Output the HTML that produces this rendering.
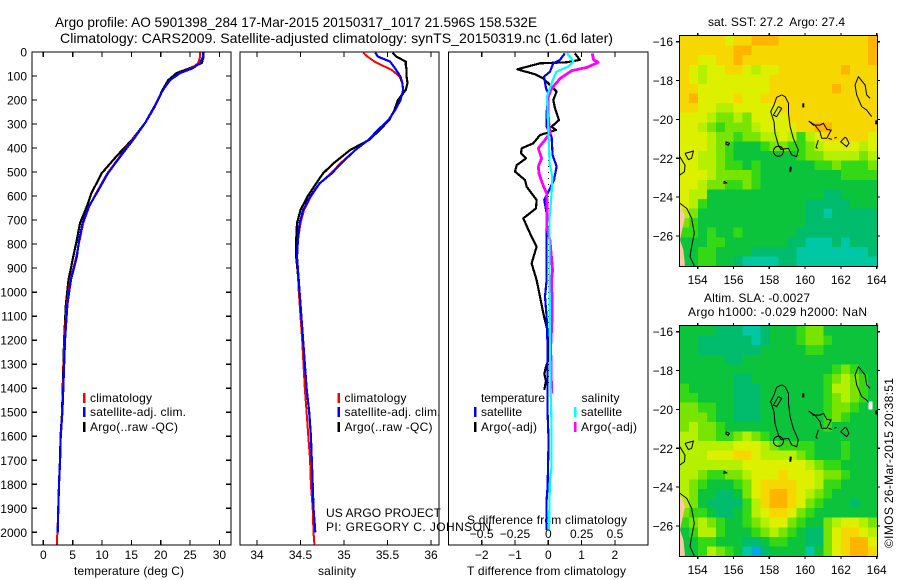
<!DOCTYPE html>
<html lang="en">
<head>
<meta charset="utf-8">
<title>Argo profile 5901398_284</title>
<style>
html,body{margin:0;padding:0;background:#fff;}
svg{display:block;font-family:"Liberation Sans",sans-serif;font-size:12px;fill:#000;}
</style>
</head>
<body>
<svg id="chart" xmlns="http://www.w3.org/2000/svg" width="900" height="580" viewBox="0 0 900 580">
<rect x="0" y="0" width="900" height="580" fill="#fff"/>
<text x="55" y="27" font-size="14" textLength="482" lengthAdjust="spacingAndGlyphs">Argo profile: AO 5901398_284 17-Mar-2015 20150317_1017 21.596S 158.532E</text>
<text x="60" y="43" font-size="14" textLength="553" lengthAdjust="spacingAndGlyphs">Climatology: CARS2009. Satellite-adjusted climatology: synTS_20150319.nc (1.6d later)</text>
<text x="74" y="575" textLength="110">temperature (deg C)</text>
<text x="318" y="575" textLength="38">salinity</text>
<text x="467" y="575" textLength="159">T difference from climatology</text>
<text x="467" y="524" textLength="160">S difference from climatology</text>
<text x="326" y="517" textLength="115">US ARGO PROJECT</text>
<text x="326" y="531" textLength="165">PI: GREGORY C. JOHNSON</text>
<text x="708" y="26" textLength="137" xml:space="preserve">sat. SST: 27.2  Argo: 27.4</text>
<text x="704" y="302" textLength="106">Altim. SLA: -0.0027</text>
<text x="688" y="316" textLength="179">Argo h1000: -0.029 h2000: NaN</text>
<text transform="translate(893,548) rotate(-90)" textLength="170">©IMOS 26-Mar-2015 20:38:51</text>
</svg>
<script>
/* ---------- profile data: depth (m) and measured values ---------- */
const depthT = [0,20,46,67,88,117,158,228,297,366,436,505,588,645,713,783,853,950,1050,1200,1400,1500,1600,1700,1800,1900,2000,2050];
const tempClim = [26.7,26.7,26.4,25.3,23.2,21.6,20.4,19.0,17.3,15.2,13.0,10.9,9.0,7.8,6.8,6.2,5.6,4.6,4.0,3.6,3.35,3.2,2.95,2.85,2.67,2.55,2.4,2.3];
const tempSat = [27.2,27.2,26.7,25.5,23.3,21.6,20.4,18.9,17.3,15.3,13.1,11.0,9.1,7.7,6.7,6.1,5.7,4.7,4.1,3.7,3.4,3.25,2.97,2.87,2.68,2.56,2.45,null];
const tempArgo = [27.3,27.3,27.0,25.0,22.7,21.3,20.3,19.0,17.3,15.1,12.4,9.95,8.2,7.4,6.25,5.7,5.1,4.3,3.85,3.55,3.3,3.2,2.95,2.85,2.67,2.55,2.45,null];

const depthS = [3,19,40,54,75,103,130,158,200,241,283,325,366,408,463,505,547,602,658,713,783,853,1000,1200,1400,1500,1600,1700,1800,1900,2000,2050];
const salClim = [35.22,35.27,35.35,35.43,35.55,35.64,35.67,35.68,35.65,35.59,35.51,35.39,35.28,35.13,34.96,34.85,34.72,34.62,34.54,34.50,34.47,34.46,34.48,34.52,34.55,34.57,34.59,34.61,34.62,34.64,34.65,34.66];
const salSat = [35.36,35.39,35.53,35.56,35.60,35.65,35.67,35.68,35.65,35.59,35.51,35.39,35.28,35.13,34.97,34.86,34.72,34.61,34.53,34.49,34.47,34.46,34.49,34.53,34.57,34.60,34.62,34.63,34.64,34.65,34.67,null];
const salArgo = [35.56,35.60,35.71,35.71,35.72,35.72,35.73,35.71,35.62,35.58,35.52,35.41,35.29,35.07,34.88,34.76,34.68,34.58,34.50,34.46,34.45,34.45,34.49,34.53,34.57,34.60,34.62,34.63,34.64,34.65,34.67,null];

const depthDiffTArgo = [6,33,43,47,72,93,110,144,165,200,235,283,311,325,346,380,401,422,443,471,498,533,561,616,651,693,755,811,880,949,1019,1088,1157,1213,1283,1310,1340,1370,1407];
const diffTArgo = [0.80,0.95,0.55,-0.25,-0.93,-0.40,-0.15,0.10,0.25,0.15,0.20,0.32,0.10,0.23,-0.25,-0.45,-0.80,-0.82,-0.67,-0.95,-1.00,-0.70,-0.65,-0.35,-0.37,-0.75,-0.55,-0.35,-0.50,-0.35,-0.25,-0.15,-0.03,0,0,-0.07,-0.12,-0.07,-0.12];
const depthDiffTSat = [6,33,47,82,103,151,172,255,311,353,429,477,533,582,616,672,741,949,1019,1102,1227,1505,1616,1810,1866,1991];
const diffTSat = [0.50,0.35,0.15,0.05,-0.13,-0.07,0,-0.05,-0.05,0.10,0.13,0.25,0.17,0,-0.12,-0.05,-0.05,-0.05,-0.10,-0.05,-0.02,-0.02,0.01,-0.02,-0.05,-0.05];
const depthDiffSSat = [6,12,40,61,82,130,186,325,464,519,589,686,949,1227,1411,1560,1727,1783,1991];
const diffSSat = [0.14,0.15,0.19,0.15,0.06,0.025,-0.01,0,0.01,0.03,0.025,0.01,0.01,0.012,0.018,0.025,0.025,0.012,0.005];
const depthDiffSArgo = [6,33,43,64,78,110,151,186,269,339,366,401,443,477,505,554,589,658,727,783,908,949,1088,1227,1422];
const diffSArgo = [0.33,0.34,0.375,0.29,0.175,0.09,0.025,0,0,0.012,-0.025,-0.075,-0.05,-0.075,-0.07,-0.04,-0.012,-0.008,-0.012,0.012,0.032,0.025,0.03,0.018,0.025];

/* ---------- tick labels ---------- */
const depthTicks = [0,100,200,300,400,500,600,700,800,900,1000,1100,1200,1300,1400,1500,1600,1700,1800,1900,2000];
const tempTicks = [0,5,10,15,20,25,30];
const salTicks = [34,34.5,35,35.5,36];
const diffTTicks = [-2,-1,0,1,2];
const diffSTicks = [-0.5,-0.25,0,0.25,0.5];
const lonTicks = [154,156,158,160,162,164];
const latTicks = [-16,-18,-20,-22,-24,-26];

/* ---------- map grids: colour level per cell, rows north to south ---------- */
const sstLevels = [
[8,8,8,8,8,7,8,8,9,9,9,8,8,8,8,8,8,8,8,8,8,9],
[8,8,8,8,8,8,9,9,8,8,8,8,8,8,8,8,8,8,8,8,8,9],
[8,8,7,7,8,8,9,8,8,8,8,8,8,8,8,8,8,8,8,8,8,9],
[8,7,6,7,7,8,8,7,6,7,7,8,8,8,8,8,8,8,9,8,8,8],
[8,7,6,7,7,7,7,7,7,7,8,8,8,8,8,8,8,8,8,8,8,8],
[8,8,7,7,7,7,7,7,7,7,8,8,8,8,8,8,8,9,8,8,8,8],
[8,9,7,7,7,7,8,7,7,8,8,8,8,8,8,8,8,8,8,8,8,8],
[8,8,7,7,6,6,7,7,7,7,7,8,8,8,8,8,8,8,8,8,8,8],
[7,7,7,6,5,5,6,5,7,7,7,7,8,8,8,8,8,8,8,8,8,8],
[7,7,6,5,4,5,5,5,6,7,7,7,7,8,8,9,9,8,8,8,8,8],
[7,7,7,6,5,5,4,5,5,6,6,7,6,4,6,7,8,8,8,8,8,7],
[7,7,7,6,5,4,3,3,3,4,5,5,4,4,5,6,7,7,7,7,6,7],
[7,7,6,6,5,4,3,3,3,3,3,3,3,4,5,5,6,6,6,6,5,6],
[7,7,6,6,5,4,4,3,4,3,3,3,3,3,3,4,4,5,4,4,4,5],
[7,7,7,6,5,5,5,5,4,3,3,3,3,3,3,3,3,3,4,4,4,4],
[7,7,6,5,5,4,4,5,4,3,3,3,3,3,3,3,3,3,3,3,3,3],
[7,6,6,3,3,3,3,3,3,3,3,3,3,3,3,3,2,2,3,3,3,3],
[7,6,4,3,3,3,3,3,3,3,3,3,3,3,2,2,2,2,2,3,3,3],
[6,5,3,3,3,3,3,3,3,3,3,3,3,3,2,2,1,2,2,2,2,2],
[5,4,3,3,3,3,3,3,3,3,3,3,3,3,2,2,2,2,2,2,2,2],
[4,4,3,4,3,3,4,3,3,3,3,3,3,2,2,2,2,2,2,2,2,2],
[3,3,3,4,4,3,3,3,3,3,3,3,2,2,1,1,1,2,1,2,2,2],
[3,3,4,4,3,3,3,3,2,2,2,2,2,1,1,1,1,1,1,1,1,2],
[3,3,4,4,3,3,2,1,1,1,1,2,2,1,1,1,1,1,1,1,1,1]
];
const slaLevels = [
[3,3,3,3,2,2,2,1,1,2,3,3,3,4,5,5,3,3,3,3,3,3],
[3,3,2,2,2,2,2,2,1,2,3,3,3,4,5,5,4,3,3,3,3,3],
[3,3,2,2,2,2,2,2,2,3,3,3,3,3,4,4,3,3,3,3,3,3],
[3,3,3,3,3,2,2,3,3,3,3,3,3,3,3,3,3,3,3,3,3,3],
[3,3,3,3,3,3,3,3,3,3,3,3,3,3,3,3,3,4,5,4,3,3],
[3,3,3,3,3,3,2,2,3,3,3,3,3,3,3,3,4,5,6,5,4,3],
[4,3,3,3,3,3,2,2,2,3,3,3,3,3,3,3,4,6,6,5,4,3],
[4,4,3,3,3,3,2,2,2,3,3,3,3,3,3,3,4,5,6,5,4,3],
[5,5,4,4,3,3,2,2,2,3,3,3,3,3,3,3,4,5,5,4,3,3],
[5,5,5,4,3,3,2,2,2,3,3,3,3,3,3,3,4,5,4,3,3,3],
[5,6,5,5,4,3,3,3,3,3,3,3,3,3,3,3,4,3,3,3,3,3],
[6,6,5,5,4,4,5,6,5,4,3,3,3,3,3,3,3,3,3,3,3,3],
[6,6,6,6,6,6,7,7,7,6,5,4,4,4,4,3,3,3,4,3,3,3],
[6,6,6,7,7,7,8,8,7,6,6,6,6,5,4,3,3,3,4,3,3,3],
[6,6,6,6,6,6,6,7,7,7,7,7,7,7,6,5,4,4,3,3,3,3],
[6,6,5,4,4,5,5,6,7,7,7,8,7,7,7,6,5,5,4,3,3,3],
[6,5,4,3,3,3,4,5,7,8,8,8,8,7,7,6,4,4,3,3,3,3],
[6,5,3,3,2,2,3,5,7,8,9,9,8,7,6,5,4,3,3,3,3,3],
[6,5,3,2,2,2,2,4,6,8,9,9,8,7,5,4,3,3,3,2,3,3],
[5,4,4,3,2,2,3,4,6,7,8,8,7,5,4,3,3,3,3,3,3,3],
[4,5,6,5,4,3,3,4,5,6,7,7,5,4,3,3,5,6,7,7,6,5],
[3,4,6,6,4,3,3,3,4,5,6,5,4,3,2,2,5,7,8,8,7,6],
[3,3,4,4,3,3,3,2,2,3,4,4,3,3,2,2,5,7,8,9,9,7],
[3,3,4,6,5,4,3,1,0,2,3,3,3,3,1,3,5,7,8,9,9,8]
];
const levelColors = ['#00a8e8','#00c8a4','#00bc6c','#0cc43c','#34d814','#78e400','#b4f000','#dcf000','#f6d800','#ffb400'];

/* ---------- coastlines as lon/lat ---------- */
const coastThin = [
[[158.69,-18.74],[158.41,-18.86],[158.26,-19.26],[158.08,-19.60],[158.26,-20.12],[158.32,-20.72],[158.51,-21.32],[158.64,-21.54],[159.07,-21.49],[159.25,-21.83],[159.53,-21.92],[159.62,-21.57],[159.34,-20.97],[159.16,-20.37],[159.07,-19.69],[159.07,-19.17],[158.88,-18.83],[158.69,-18.74]],
[[158.51,-19.34],[158.23,-19.77],[158.41,-19.86],[158.69,-19.43],[158.51,-19.34]],
[[160.20,-20.08],[160.46,-20.29],[160.83,-20.29],[161.02,-20.20],[161.21,-20.51],[161.45,-20.55],[161.21,-20.97],[160.93,-20.97],[160.83,-20.63],[160.55,-20.29],[160.20,-20.08]],
[[160.74,-21.06],[160.61,-21.44],[160.70,-21.49]],
[[162.23,-20.91],[161.99,-21.15],[162.32,-21.40],[162.45,-21.23],[162.32,-20.97],[162.23,-20.91]],
[[161.30,-20.97],[161.49,-21.03]],
[[161.63,-20.96],[161.77,-20.92]],
[[163.72,-19.86],[163.44,-19.52],[163.16,-19.34],[162.88,-18.74],[162.79,-18.23],[162.98,-17.80],[163.35,-18.23],[163.44,-18.74],[163.63,-18.92]],
[[155.58,-21.15],[155.77,-21.23],[155.71,-21.33],[155.58,-21.27],[155.58,-21.15]],
[[155.47,-23.17],[155.62,-23.26],[155.47,-23.29],[155.47,-23.17]],
[[153.29,-21.75],[153.76,-21.63],[153.66,-22.0],[153.48,-22.07],[153.29,-21.75]],
[[153.0,-21.92],[153.29,-22.35],[153.26,-22.69],[153.0,-22.86]],
[[153.01,-24.32],[153.39,-24.58],[153.66,-25.09],[153.81,-25.86],[153.66,-26.55],[153.57,-27.06],[153.81,-27.54]]
];
const coastThick = [
[[159.9,-19.17],[159.9,-19.38]],
[[159.2,-22.43],[159.17,-22.69]],
[[163.97,-20.05],[163.97,-20.25]]
];
const landArea = [[153.0,-27.54],[153.29,-27.54],[153.2,-26.72],[153.01,-26.2],[153.29,-25.0],[153.1,-24.5],[153.0,-24.5]];
const islandCircle = [158.51,-21.64];

const svg = document.getElementById('chart');
const NS = 'http://www.w3.org/2000/svg';
function mk(tag, attrs, parent) {
  const el = document.createElementNS(NS, tag);
  for (const k in attrs) el.setAttribute(k, attrs[k]);
  (parent || svg).appendChild(el);
  return el;
}
function fmtTick(v) { return String(v).replace('-', '\u2212'); }

/* axis functions */
const depthY = d => 52 + d * 0.24015;
const tempX = t => 43.3 + t * 5.87;
const salX = s => 257 + (s - 34) * 87;
const diffTX = t => 548.3 + t * 33.3;
const diffSX = s => 548.3 + s * 133.3;
const lonX = l => 697.7 + (l - 154) * 17.9;
const latY1 = a => 41.7 + (-16 - a) * 19.43;
const latY2 = a => 331.7 + (-16 - a) * 19.43;

function profile(name, depths, values, xf, color, width) {
  const pts = [];
  depths.forEach((d, i) => { if (values[i] !== null) pts.push(xf(values[i]).toFixed(1) + ',' + depthY(d).toFixed(1)); });
  const line = mk('polyline', {points: pts.join(' '), fill: 'none', stroke: color, 'stroke-width': width, 'stroke-linejoin': 'round', 'shape-rendering': 'crispEdges'});
  
  
}
function frame(name, x, y, w, h) {
  const r = mk('rect', {x: x, y: y, width: w, height: h, fill: 'none', stroke: '#000', 'stroke-width': 1.3, 'shape-rendering': 'crispEdges'});
  
  
}
function tick(x1, y1, x2, y2) {
  const t = mk('line', {x1: x1, y1: y1, x2: x2, y2: y2, stroke: '#000', 'stroke-width': 1.2, 'shape-rendering': 'crispEdges'});
  
  
}
function label(txt, x, y, anchor) {
  const t = mk('text', {x: x, y: y, 'text-anchor': anchor || 'middle'});
  t.textContent = txt;
  
  
}
function legendEntry(name, x, yMid, color, txt, len) {
  const b = mk('rect', {x: x, y: yMid - 5, width: 2.4, height: 10, fill: color, 'shape-rendering': 'crispEdges'});
  
  
  const t = mk('text', {x: x + 7, y: yMid + 4, textLength: len});
  t.textContent = txt;
  
  
}

/* ---------- temperature panel ---------- */
profile('temperature-argo-line', depthT, tempArgo, tempX, '#000', 2.2);
profile('temperature-climatology-line', depthT, tempClim, tempX, '#f00', 2);
profile('temperature-satellite-line', depthT, tempSat, tempX, '#00f', 2.2);
frame('temperature-panel-frame', 32, 52, 199, 493);
depthTicks.forEach(d => {
  tick(32, depthY(d), 37, depthY(d));
  tick(226, depthY(d), 231, depthY(d));
  label(d, 27, depthY(d) + 4.5, 'end');
});
tempTicks.forEach(t => {
  tick(tempX(t), 52, tempX(t), 57);
  tick(tempX(t), 540, tempX(t), 545);
  label(t, tempX(t), 559);
});

/* ---------- salinity panel ---------- */
profile('salinity-argo-line', depthS, salArgo, salX, '#000', 2.2);
profile('salinity-climatology-line', depthS, salClim, salX, '#f00', 2);
profile('salinity-satellite-line', depthS, salSat, salX, '#00f', 2.2);
frame('salinity-panel-frame', 240, 52, 199, 493);
salTicks.forEach(s => {
  tick(salX(s), 52, salX(s), 57);
  tick(salX(s), 540, salX(s), 545);
  label(s, salX(s), 559);
});

/* ---------- difference panel ---------- */
const zeroLine = mk('line', {x1: diffTX(0), y1: depthY(200), x2: diffTX(0), y2: depthY(1400), stroke: '#000', 'stroke-width': 1, 'stroke-dasharray': '1 5', 'shape-rendering': 'crispEdges'});


profile('t-difference-argo-line', depthDiffTArgo, diffTArgo, diffTX, '#000', 2.2);
profile('t-difference-satellite-line', depthDiffTSat, diffTSat, diffTX, '#00f', 2.2);
profile('s-difference-argo-line', depthDiffSArgo, diffSArgo, diffSX, '#f0f', 2.8);
profile('s-difference-satellite-line', depthDiffSSat, diffSSat, diffSX, '#0ff', 2.2);
frame('difference-panel-frame', 448.5, 52, 199.5, 493);
diffTTicks.forEach(t => {
  tick(diffTX(t), 52, diffTX(t), 57);
  tick(diffTX(t), 540, diffTX(t), 545);
  label(fmtTick(t), diffTX(t), 559);
});
diffSTicks.forEach(s => { label(fmtTick(s), diffSX(s), 538); });

/* ---------- legends ---------- */
legendEntry('temperature-legend-climatology', 83, 398, '#f00', 'climatology', 62);
legendEntry('temperature-legend-satellite', 83, 412, '#00f', 'satellite-adj. clim.', 96);
legendEntry('temperature-legend-argo', 83, 427, '#000', 'Argo(..raw -QC)', 88);
legendEntry('salinity-legend-climatology', 337.5, 398, '#f00', 'climatology', 62);
legendEntry('salinity-legend-satellite', 337.5, 412, '#00f', 'satellite-adj. clim.', 96);
legendEntry('salinity-legend-argo', 337.5, 427, '#000', 'Argo(..raw -QC)', 88);
const legT = mk('text', {x: 481, y: 402, textLength: 64});
legT.textContent = 'temperature';


const legS = mk('text', {x: 581.5, y: 402, textLength: 38});
legS.textContent = 'salinity';


legendEntry('difference-legend-t-satellite', 474, 412, '#00f', 'satellite', 41);
legendEntry('difference-legend-t-argo', 474, 427, '#000', 'Argo(-adj)', 56);
legendEntry('difference-legend-s-satellite', 574, 412, '#0ff', 'satellite', 41);
legendEntry('difference-legend-s-argo', 574, 427, '#f0f', 'Argo(-adj)', 56);

/* ---------- maps ---------- */
function drawMap(prefix, levels, latY, yFrameTop, yFrameBottom, labelBaseline) {
  const nRows = levels.length;
  const nCols = levels[0].length;
  const cellW = 197 / nCols;
  const cellH = (yFrameBottom - yFrameTop) / nRows;
  levels.forEach((row, r) => {
    row.forEach((v, c) => {
      const cell = mk('rect', {x: (680 + c * cellW).toFixed(2), y: (yFrameTop + r * cellH).toFixed(2), width: (cellW + 0.3).toFixed(2), height: (cellH + 0.3).toFixed(2), fill: levelColors[v], 'shape-rendering': 'crispEdges'});
      
      
    });
  });
  const toPts = list => list.map(p => lonX(p[0]).toFixed(1) + ',' + latY(p[1]).toFixed(1)).join(' ');
  const land = mk('polygon', {points: toPts(landArea), fill: '#ffc8a0'});
  
  
  coastThin.forEach(seg => {
    const c = mk('polyline', {points: toPts(seg), fill: 'none', stroke: '#000', 'stroke-width': 1});
    
    
  });
  coastThick.forEach(seg => {
    const c = mk('polyline', {points: toPts(seg), fill: 'none', stroke: '#000', 'stroke-width': 2});
    
    
  });
  const circ = mk('circle', {cx: lonX(islandCircle[0]), cy: latY(islandCircle[1]), r: 5, fill: 'none', stroke: '#000', 'stroke-width': 1});
  
  
  frame(prefix + '-frame', 679.5, yFrameTop - 0.5, 198, yFrameBottom - yFrameTop + 1);
  lonTicks.forEach(l => {
    tick(lonX(l), yFrameTop - 3, lonX(l), yFrameTop);
    tick(lonX(l), yFrameBottom, lonX(l), yFrameBottom + 3);
    label(l, lonX(l), labelBaseline);
  });
  latTicks.forEach(a => {
    tick(676, latY(a), 680, latY(a));
    tick(877, latY(a), 880, latY(a));
    label(fmtTick(a), 673, latY(a) + 4.5, 'end');
  });
}
drawMap('sst-map', sstLevels, latY1, 36, 266, 284);
drawMap('sla-map', slaLevels, latY2, 326, 556, 574);
const naPatch = mk('rect', {x: lonX(163.55), y: latY2(-19.6), width: 4, height: 8, fill: '#fff', 'shape-rendering': 'crispEdges'});


</script>
</body>
</html>
